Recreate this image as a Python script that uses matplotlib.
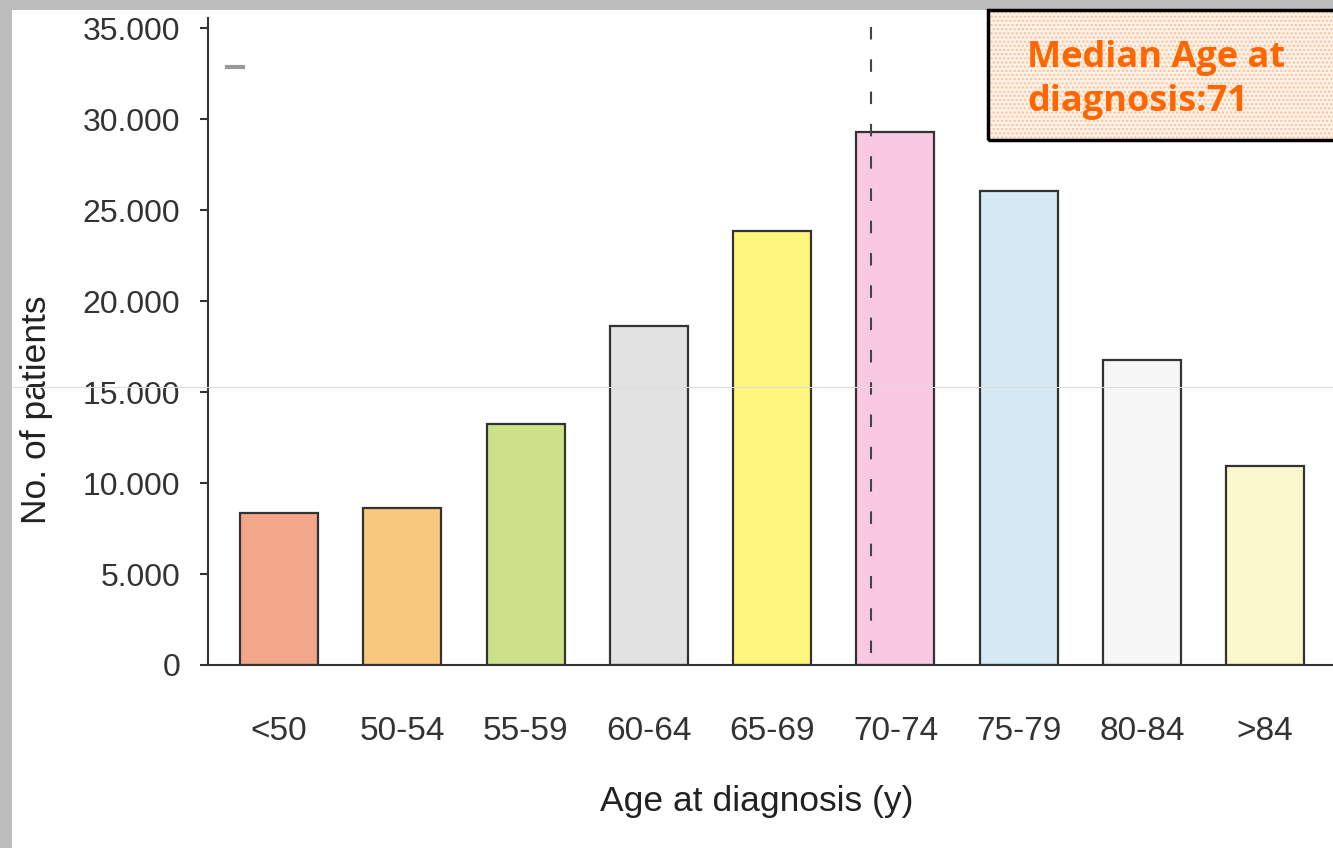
import numpy as np
import matplotlib
matplotlib.use("Agg")
import matplotlib.pyplot as plt
from matplotlib.patches import Rectangle
from matplotlib.lines import Line2D

groups = ["<50", "50-54", "55-59", "60-64", "65-69", "70-74", "75-79", "80-84", ">84"]
patients = [8350, 8600, 13250, 18600, 23850, 29300, 26050, 16750, 10950]
colors = ["#F2A68A", "#F7C87E", "#CDE08A", "#E2E2E2", "#FFF67E",
          "#F9C9E3", "#D6EAF5", "#F7F7F7", "#FAF7CC"]
median_pos = 4.8   # age 71 inside the 70-74 group
yticks = [0, 5000, 10000, 15000, 20000, 25000, 30000, 35000]
ytick_labels = ["0", "5.000", "10.000", "15.000", "20.000", "25.000", "30.000", "35.000"]

W, H = 1333, 848
fig = plt.figure(figsize=(W / 100, H / 100), dpi=100)
fig.patch.set_facecolor("#bdbdbd")
fig.patches.append(Rectangle((12 / W, 0), 1, 1 - 10 / H, transform=fig.transFigure,
                             facecolor="white", edgecolor="none", zorder=-5))

ax = fig.add_axes([208 / W, (H - 665) / H, (W - 208) / W, (665 - 18) / H])
ax.set_facecolor("none")

x = np.arange(len(groups))
ax.bar(x, patients, width=0.633, color=colors, edgecolor="#333333", linewidth=1.6, zorder=2)
ax.plot([median_pos, median_pos], [35050, 0], color="#444444", lw=1.5,
        linestyle=(0, (6, 9.5)), zorder=3)

ax.set_xlim(-0.576, 8.55)
ax.set_ylim(0, 35550)
ax.set_yticks(yticks)
ax.set_yticklabels(ytick_labels)
ax.set_xticks(x)
ax.set_xticklabels(groups)

for s in ["top", "right"]:
    ax.spines[s].set_visible(False)
ax.spines["left"].set_linewidth(1.5)
ax.spines["bottom"].set_linewidth(1.5)
ax.spines["left"].set_color("#333333")
ax.spines["bottom"].set_color("#333333")

font = "Liberation Sans"
ax.tick_params(axis="y", length=6, width=1.5, color="#333333", pad=14,
               labelsize=23, labelcolor="#333333")
ax.tick_params(axis="x", length=0, pad=37, labelsize=24, labelcolor="#333333")
for lbl in ax.get_xticklabels() + ax.get_yticklabels():
    lbl.set_fontfamily(font)

ax.set_xlabel("Age at diagnosis (y)", fontsize=25.5, color="#222222", family=font, labelpad=27)
ax.set_ylabel("No. of patients", fontsize=25.5, color="#222222", family=font, labelpad=21)
ax.xaxis.label.set_x(0.488)
ax.yaxis.label.set_y(0.394)

# annotation box
bx, by, bw, bh = 988 / W, (H - 140) / H, 400 / W, 130 / H
fig.patches.append(Rectangle((bx, by), bw, bh, transform=fig.transFigure,
                             facecolor="#FFF1E6", edgecolor="#F8C09A", hatch="....",
                             linewidth=0, zorder=5))
fig.patches.append(Rectangle((bx, by), bw, bh, transform=fig.transFigure,
                             facecolor="none", edgecolor="black", linewidth=2.5, zorder=6))
fig.text(1027 / W, (H - 80) / H, "Median Age at\ndiagnosis:71", color="#FF6600",
         fontsize=26, fontweight="bold", family="Open Sans", va="center", ha="left",
         linespacing=1.3, zorder=7)

# faint scan marks
fig.lines.append(Line2D([12 / W, 1], [(H - 387) / H] * 2, transform=fig.transFigure,
                        color="#dddddd", lw=0.8, zorder=8))
fig.lines.append(Line2D([227 / W, 243 / W], [(H - 67) / H] * 2, transform=fig.transFigure,
                        color="#999999", lw=3, zorder=8))

fig.savefig("out.png", dpi=100, facecolor=fig.get_facecolor())
